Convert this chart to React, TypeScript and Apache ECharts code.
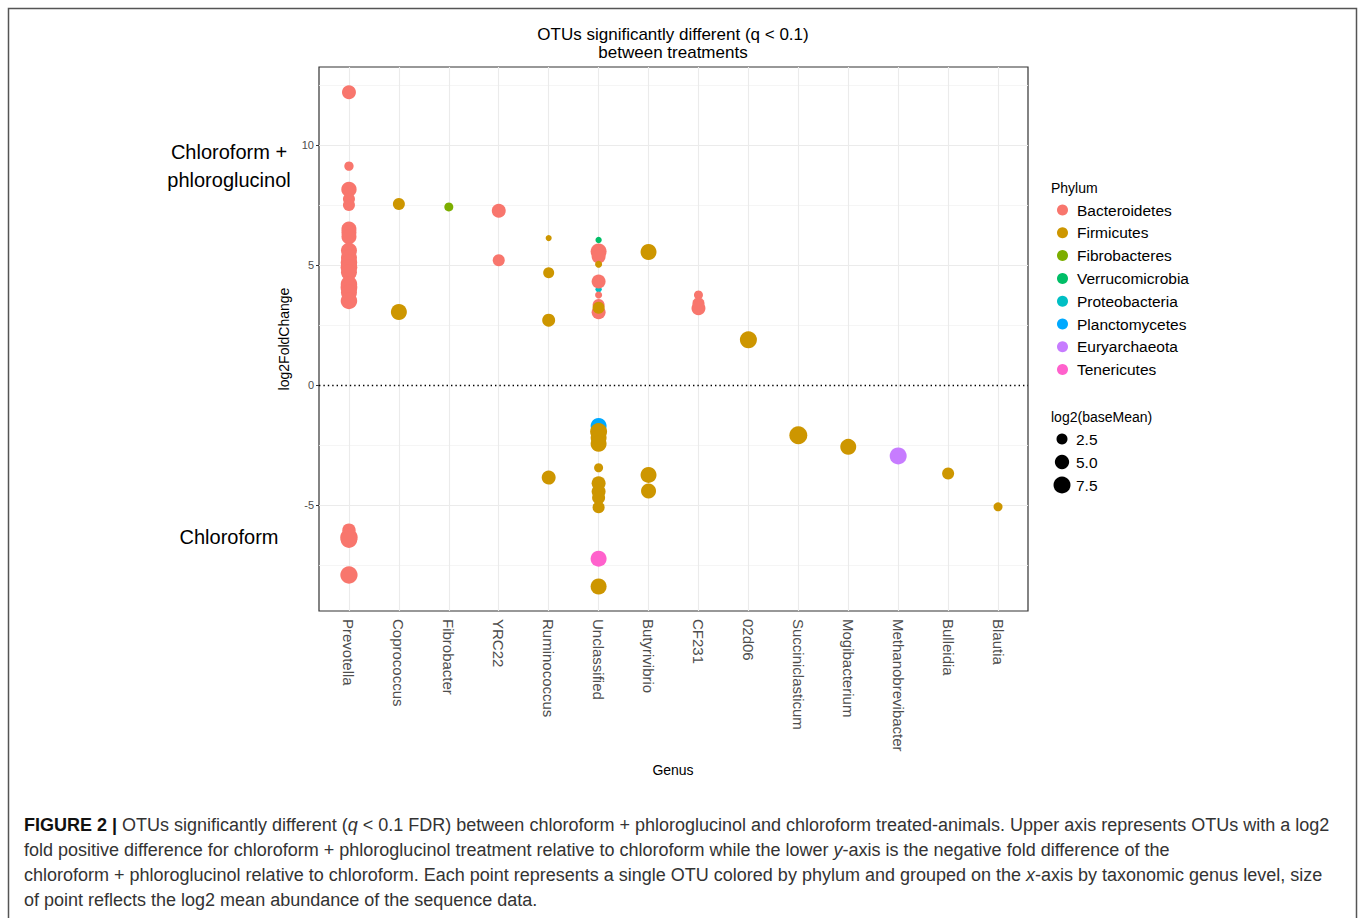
import React, { useEffect, useRef } from 'react';
import * as echarts from 'echarts';

const genera = ['Prevotella', 'Coprococcus', 'Fibrobacter', 'YRC22', 'Ruminococcus', 'Unclassified', 'Butyrivibrio', 'CF231', '02d06', 'Succiniclasticum', 'Mogibacterium', 'Methanobrevibacter', 'Bulleidia', 'Blautia'];
const phyla = ['Bacteroidetes', 'Firmicutes', 'Fibrobacteres', 'Verrucomicrobia', 'Proteobacteria', 'Planctomycetes', 'Euryarchaeota', 'Tenericutes'];
const phylumColors = ['#F8766D', '#CD9600', '#7CAE00', '#00BE67', '#00BFC4', '#00A9FF', '#C77CFF', '#FF61CC'];
const yTicks = [-5, 0, 5, 10];
const yMinorGrid = [-7.5, -2.5, 2.5, 7.5, 12.5];
const sizeLegendValues = [2.5, 5.0, 7.5];

// [genus, log2FoldChange, log2(baseMean)]
const bacteroidetes: [string, number, number][] = [
  ['Prevotella', 12.2, 4.7], ['Prevotella', 9.12, 1.5], ['Prevotella', 8.15, 5.9], ['Prevotella', 7.75, 3.2],
  ['Prevotella', 7.5, 3.2], ['Prevotella', 6.5, 5.6], ['Prevotella', 6.35, 5.6], ['Prevotella', 6.18, 5.6],
  ['Prevotella', 5.6, 6.5], ['Prevotella', 5.3, 6.5], ['Prevotella', 5.1, 7.0], ['Prevotella', 4.9, 7.2],
  ['Prevotella', 4.7, 6.5], ['Prevotella', 4.2, 7.0], ['Prevotella', 4.05, 7.2], ['Prevotella', 3.85, 6.5],
  ['Prevotella', 3.5, 7.0],
  ['Prevotella', -6.05, 4.2], ['Prevotella', -6.35, 8.0], ['Prevotella', -6.45, 7.0], ['Prevotella', -7.92, 7.8],
  ['YRC22', 7.26, 4.7], ['YRC22', 5.2, 3.2],
  ['Unclassified', 5.56, 6.5], ['Unclassified', 5.35, 4.7], ['Unclassified', 4.31, 4.7], ['Unclassified', 3.75, 0.4],
  ['Unclassified', 3.33, 3.2], ['Unclassified', 3.03, 4.7],
  ['CF231', 3.75, 1.3], ['CF231', 3.4, 3.2], ['CF231', 3.2, 4.7],
];
const firmicutes: [string, number, number][] = [
  ['Coprococcus', 7.54, 3.2], ['Coprococcus', 3.04, 6.5],
  ['Ruminococcus', 6.12, 0.0], ['Ruminococcus', 4.68, 2.5], ['Ruminococcus', 2.7, 3.9], ['Ruminococcus', -3.86, 4.7],
  ['Unclassified', 5.03, 0.4], ['Unclassified', 3.22, 3.2], ['Unclassified', -1.94, 7.5], ['Unclassified', -2.2, 6.5],
  ['Unclassified', -2.45, 6.5], ['Unclassified', -3.45, 1.3], ['Unclassified', -4.1, 4.7], ['Unclassified', -4.44, 4.7],
  ['Unclassified', -4.7, 3.9], ['Unclassified', -5.1, 3.2], ['Unclassified', -8.4, 6.5],
  ['Butyrivibrio', 5.54, 6.5], ['Butyrivibrio', -3.75, 6.5], ['Butyrivibrio', -4.42, 5.6],
  ['02d06', 1.88, 7.5],
  ['Succiniclasticum', -2.1, 8.5],
  ['Mogibacterium', -2.58, 6.5],
  ['Bulleidia', -3.69, 3.2],
  ['Blautia', -5.08, 1.3],
];
const fibrobacteres: [string, number, number][] = [['Fibrobacter', 7.42, 1.3]];
const verrucomicrobia: [string, number, number][] = [['Unclassified', 6.04, 0.1]];
const proteobacteria: [string, number, number][] = [['Unclassified', 3.99, 0.1]];
const planctomycetes: [string, number, number][] = [['Unclassified', -1.71, 6.5]];
const euryarchaeota: [string, number, number][] = [['Methanobrevibacter', -2.96, 7.5]];
const tenericutes: [string, number, number][] = [['Unclassified', -7.24, 6.5]];

const phylumData: Record<string, [string, number, number][]> = {
  Bacteroidetes: bacteroidetes,
  Firmicutes: firmicutes,
  Fibrobacteres: fibrobacteres,
  Verrucomicrobia: verrucomicrobia,
  Proteobacteria: proteobacteria,
  Planctomycetes: planctomycetes,
  Euryarchaeota: euryarchaeota,
  Tenericutes: tenericutes,
};
// drawing order (later on top)
const drawOrder = ['Proteobacteria', 'Planctomycetes', 'Verrucomicrobia', 'Fibrobacteres', 'Euryarchaeota', 'Tenericutes', 'Bacteroidetes', 'Firmicutes'];

const FONT = '"Liberation Sans", Arial, Helvetica, sans-serif';
const sizeOf = (bm: number) => Math.sqrt(37 + 33.6 * bm);

export default function App() {
  const ref = useRef<HTMLDivElement>(null);
  useEffect(() => {
    if (!ref.current) return;
    const chart = echarts.init(ref.current, null, { renderer: 'svg' });
    const gridLine = { color: '#EBEBEB', width: 1.1, type: 'solid' };
    const minorLine = { color: '#F3F3F3', width: 0.8, type: 'solid' };

    const pointSeries = drawOrder.map((p) => ({
      name: p,
      type: 'scatter',
      z: 3,
      symbol: 'circle',
      symbolSize: (v: number[]) => sizeOf(v[2]),
      itemStyle: { color: phylumColors[phyla.indexOf(p)], opacity: 1 },
      emphasis: { disabled: true },
      data: phylumData[p].map(([g, fc, bm]) => [genera.indexOf(g) + 1, fc, bm]),
    }));

    const CAP = 18;
    const captionRich = {
      b: { fontWeight: 'bold', fontSize: CAP, fontFamily: FONT, fill: '#111' },
      i: { fontStyle: 'italic', fontSize: CAP, fontFamily: FONT, fill: '#333' },
    };
    const captionLines = [
      '{b|FIGURE 2 |} OTUs significantly different ({i|q} < 0.1 FDR) between chloroform + phloroglucinol and chloroform treated-animals. Upper axis represents OTUs with a log2',
      'fold positive difference for chloroform + phloroglucinol treatment relative to chloroform while the lower {i|y}-axis is the negative fold difference of the',
      'chloroform + phloroglucinol relative to chloroform. Each point represents a single OTU colored by phylum and grouped on the {i|x}-axis by taxonomic genus level, size',
      'of point reflects the log2 mean abundance of the sequence data.',
    ];

    const txt = (text: string, x: number, y: number, size: number, extra: any = {}) => ({
      type: 'text', x, y, silent: true,
      style: { text, fontSize: size, fontFamily: FONT, fill: '#000', align: 'left', verticalAlign: 'middle', ...extra },
    });

    const graphics: any[] = [
      { type: 'rect', silent: true, shape: { x: 8.5, y: 8.5, width: 1348, height: 930 }, style: { fill: 'none', stroke: '#555', lineWidth: 1.5 } },
      txt('OTUs significantly different (q < 0.1)', 673, 34, 17, { align: 'center' }),
      txt('between treatments', 673, 52, 17, { align: 'center' }),
      txt('Chloroform +', 229, 152, 20, { align: 'center' }),
      txt('phloroglucinol', 229, 180, 20, { align: 'center' }),
      txt('Chloroform', 229, 537, 20, { align: 'center' }),
      { ...txt('log2FoldChange', 284, 339, 14, { align: 'center' }), rotation: Math.PI / 2 },
      txt('Genus', 673, 770, 14, { align: 'center' }),
      txt('Phylum', 1051, 188, 14),
      txt('log2(baseMean)', 1051, 417, 14),
      ...sizeLegendValues.flatMap((v, i) => [
        { type: 'circle', silent: true, shape: { cx: 1062, cy: 439 + i * 23, r: sizeOf(v) / 2 }, style: { fill: '#000' } },
        txt(v.toFixed(1), 1076, 439 + i * 23, 15.5),
      ]),
      ...captionLines.map((line, i) => ({
        type: 'text', x: 24, y: 825 + i * 25, silent: true,
        style: { text: line, rich: captionRich, fontSize: CAP, fontFamily: FONT, fill: '#333', align: 'left', verticalAlign: 'middle' },
      })),
    ];

    chart.setOption({
      animation: false,
      backgroundColor: '#fff',
      grid: { left: 319, top: 67, right: 330, bottom: 307, show: true, borderColor: '#333', borderWidth: 1.2, backgroundColor: 'transparent' },
      xAxis: {
        type: 'value', min: 0.4, max: 14.6,
        axisLine: { show: false },
        splitLine: { show: false },
        axisTick: { show: true, length: 4, customValues: genera.map((_, i) => i + 1), lineStyle: { color: '#333', width: 1 } },
        axisLabel: {
          customValues: genera.map((_, i) => i + 1),
          formatter: (v: number) => genera[Math.round(v) - 1] ?? '',
          rotate: -90, margin: 8, fontSize: 15, fontFamily: FONT, color: '#4D4D4D',
        },
      },
      yAxis: {
        type: 'value', min: -9.42, max: 13.25,
        axisLine: { show: false },
        splitLine: { show: false },
        axisTick: { show: true, length: 3, customValues: yTicks, lineStyle: { color: '#333', width: 1 } },
        axisLabel: { customValues: yTicks, margin: 5, fontSize: 11, fontFamily: FONT, color: '#4D4D4D' },
      },
      legend: {
        data: phyla,
        orient: 'vertical',
        left: 1052,
        top: 197,
        icon: 'circle',
        itemWidth: 19,
        itemHeight: 11,
        itemGap: 6.8,
        selectedMode: false,
        textStyle: { fontSize: 15.5, fontFamily: FONT, color: '#000', lineHeight: 16 },
      },
      series: [
        {
          name: '__grid', type: 'scatter', data: [], z: 1, silent: true,
          markLine: {
            z: 1,
            silent: true, symbol: ['none', 'none'], label: { show: false }, animation: false,
            data: [
              ...yMinorGrid.map((v) => ({ yAxis: v, lineStyle: minorLine })),
              ...yTicks.filter((v) => v !== 0).map((v) => ({ yAxis: v, lineStyle: gridLine })),
              ...genera.map((_, i) => ({ xAxis: i + 1, lineStyle: gridLine })),
              { yAxis: 0, lineStyle: { color: '#000', width: 1.3, type: [1.4, 3] } },
            ],
          },
        },
        ...pointSeries,
      ],
      graphic: graphics,
    } as any);
    return () => chart.dispose();
  }, []);
  return <div ref={ref} style={{ position: 'absolute', left: 0, top: 0, width: 1358, height: 918 }} />;
}
